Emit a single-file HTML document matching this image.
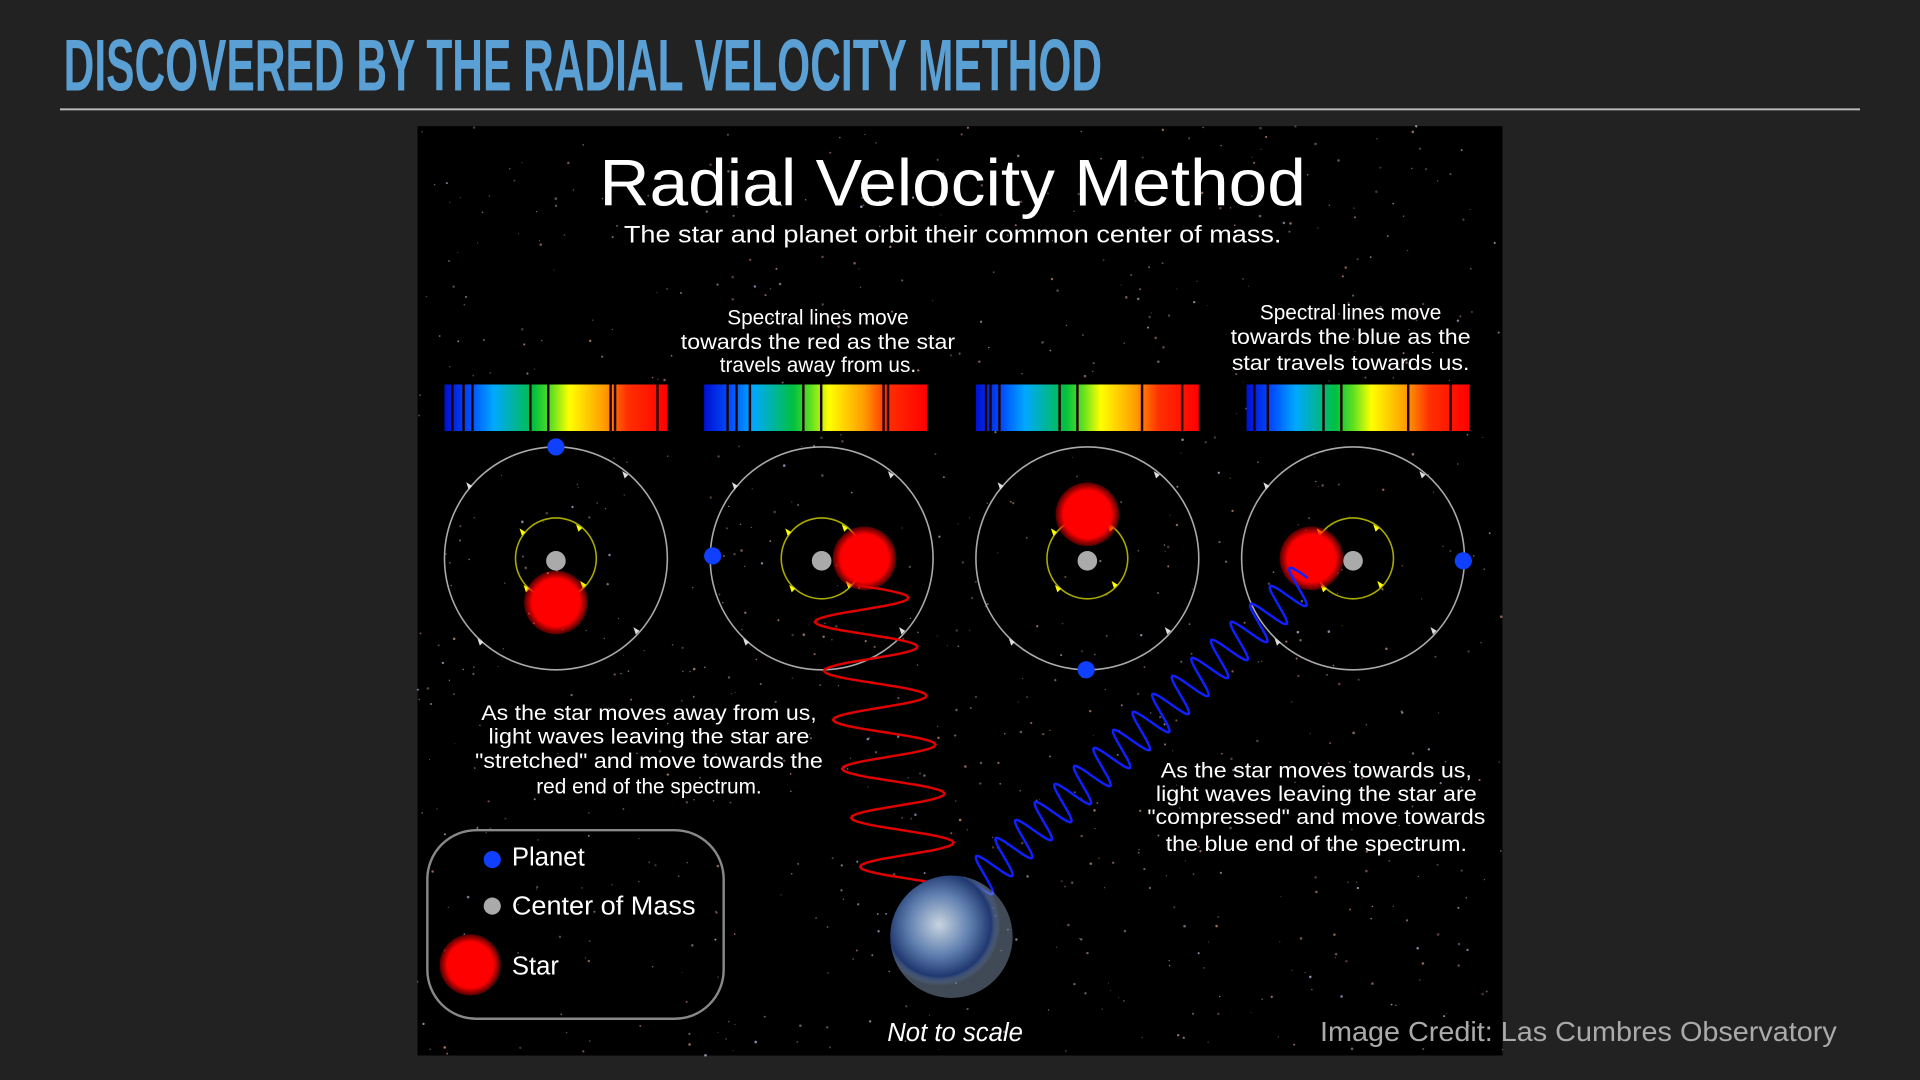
<!DOCTYPE html>
<html><head><meta charset="utf-8">
<style>
html,body{margin:0;padding:0;background:#222;width:1920px;height:1080px;overflow:hidden}
svg{display:block}
.t{font-family:"Liberation Sans",sans-serif;fill:#fff;text-anchor:middle}
</style></head>
<body>
<svg id="s" width="1920" height="1080" viewBox="0 0 1568 882" xmlns="http://www.w3.org/2000/svg">
<defs>
<linearGradient id="spec" x1="0" x2="1" y1="0" y2="0">
<stop offset="0" stop-color="#0010d0"/><stop offset="0.12" stop-color="#0050ff"/><stop offset="0.22" stop-color="#00a8ff"/>
<stop offset="0.4" stop-color="#00c040"/><stop offset="0.48" stop-color="#60e020"/><stop offset="0.56" stop-color="#ffff00"/>
<stop offset="0.72" stop-color="#ff9a00"/><stop offset="0.82" stop-color="#ff3000"/><stop offset="1" stop-color="#ff0000"/>
</linearGradient>
<radialGradient id="starg"><stop offset="0.75" stop-color="#ff0000"/><stop offset="1" stop-color="#ff0000" stop-opacity="0.3"/></radialGradient>
<radialGradient id="earth" cx="0.4" cy="0.4"><stop offset="0" stop-color="#c8d4e0"/><stop offset="0.5" stop-color="#6080b0"/><stop offset="0.85" stop-color="#203870"/><stop offset="1" stop-color="#a0b8d8" stop-opacity="0.4"/></radialGradient>
</defs>
<text x="52" y="74" font-family="Liberation Sans, sans-serif" font-weight="bold" font-size="60" fill="#5aa0d4" textLength="848" lengthAdjust="spacingAndGlyphs">DISCOVERED BY THE RADIAL VELOCITY METHOD</text>
<rect x="49" y="88.5" width="1470" height="1.6" fill="#bbb"/>
<g>
<rect x="341" y="103" width="886" height="759" fill="#000"/>
<g id="stars"></g>
<text class="t" x="778" y="168" font-size="54" textLength="577" lengthAdjust="spacingAndGlyphs">Radial Velocity Method</text>
<text class="t" x="778" y="198" font-size="20" textLength="537" lengthAdjust="spacingAndGlyphs">The star and planet orbit their common center of mass.</text>
<g>
<text class="t" x="668" y="265" font-size="17">Spectral lines move</text><text class="t" x="668" y="285" font-size="17" textLength="224" lengthAdjust="spacingAndGlyphs">towards the red as the star</text><text class="t" x="668" y="304" font-size="17">travels away from us.</text></g>
<g>
<text class="t" x="1103" y="261" font-size="17">Spectral lines move</text><text class="t" x="1103" y="281" font-size="17" textLength="196" lengthAdjust="spacingAndGlyphs">towards the blue as the</text><text class="t" x="1103" y="302" font-size="17" textLength="194" lengthAdjust="spacingAndGlyphs">star travels towards us.</text></g>
<g id="spectra"></g>
<g id="orbits"></g>
<path id="redwave" fill="none" stroke="#e00000" stroke-width="2"/>
<path id="bluewave" fill="none" stroke="#1020ff" stroke-width="2"/>
<circle cx="777" cy="765" r="50" fill="url(#earth)"/>
<g>
<text class="t" x="530" y="588" font-size="17" textLength="274" lengthAdjust="spacingAndGlyphs">As the star moves away from us,</text><text class="t" x="530" y="607" font-size="17" textLength="262" lengthAdjust="spacingAndGlyphs">light waves leaving the star are</text>
<text class="t" x="530" y="627" font-size="17" textLength="284" lengthAdjust="spacingAndGlyphs">"stretched" and move towards the</text><text class="t" x="530" y="648" font-size="17">red end of the spectrum.</text></g>
<g>
<text class="t" x="1075" y="635" font-size="17" textLength="254" lengthAdjust="spacingAndGlyphs">As the star moves towards us,</text><text class="t" x="1075" y="654" font-size="17" textLength="262" lengthAdjust="spacingAndGlyphs">light waves leaving the star are</text>
<text class="t" x="1075" y="673" font-size="17" textLength="276" lengthAdjust="spacingAndGlyphs">"compressed" and move towards</text><text class="t" x="1075" y="695" font-size="17" textLength="246" lengthAdjust="spacingAndGlyphs">the blue end of the spectrum.</text></g>
<g>
<rect x="349" y="678" width="242" height="154" rx="40" fill="none" stroke="#888" stroke-width="2"/>
<circle cx="402" cy="702" r="7" fill="#1040ff"/>
<text x="418" y="707" font-size="21" font-family="Liberation Sans, sans-serif" fill="#fff">Planet</text>
<circle cx="402" cy="740" r="7" fill="#aaa"/>
<text x="418" y="747" font-size="21" font-family="Liberation Sans, sans-serif" fill="#fff" textLength="150" lengthAdjust="spacingAndGlyphs">Center of Mass</text>
<circle cx="384" cy="788" r="25" fill="url(#starg)"/>
<text x="418" y="796" font-size="21" font-family="Liberation Sans, sans-serif" fill="#fff">Star</text>
</g>
<text class="t" x="780" y="850" font-size="21" font-style="italic">Not to scale</text>
</g>
<text x="1078" y="850" font-size="23" font-family="Liberation Sans, sans-serif" fill="#aaa" textLength="422" lengthAdjust="spacingAndGlyphs">Image Credit: Las Cumbres Observatory</text>
</svg>
<script>
var NS='http://www.w3.org/2000/svg';
function mk(tag,attrs,parent){var e=document.createElementNS(NS,tag);for(var k in attrs)e.setAttribute(k,attrs[k]);parent.appendChild(e);return e;}
var sg=document.getElementById('stars');var seed=7;function rnd(){seed=(seed*16807)%2147483647;return seed/2147483647;}
for(var i=0;i<900;i++){mk('circle',{cx:341+rnd()*886,cy:103+rnd()*759,r:0.4+rnd()*0.7,fill:rnd()<0.6?'#b08070':'#a0a0c0',opacity:0.4+rnd()*0.5},sg);}
var specX=[363,575,797,1018];
var specLines=[[0.03,0.08,0.12,0.38,0.46,0.74,0.76,0.95],[0.1,0.14,0.2,0.44,0.52,0.8,0.82],[0.04,0.06,0.1,0.37,0.45,0.74,0.92],[0.03,0.09,0.34,0.42,0.72,0.91]];
var spg=document.getElementById('spectra');
specX.forEach(function(x,j){
 var r=mk('rect',{x:x,y:314,width:182,height:38,fill:'url(#spec)'},spg);
 
 
 specLines[j].forEach(function(p){mk('rect',{x:x+p*182,y:314,width:2,height:38,fill:'#200'},spg);});
});
var og=document.getElementById('orbits');
var cx=[454,671,888,1105];
var starPos=[[454,492],[706,456],[888,420],[1071,456]];
var planetPos=[[454,365],[582,454],[887,547],[1195,458]];
cx.forEach(function(x,j){
 var c=mk('circle',{cx:x,cy:456,r:91,fill:'none',stroke:'#aaa','stroke-width':1.3},og);
 
 
 mk('circle',{cx:x,cy:456,r:33,fill:'none',stroke:'#aa0','stroke-width':1.3},og);
 [[-0.75,-0.65],[0.65,-0.75],[-0.65,0.75],[0.75,0.65]].forEach(function(d){
  mk('path',{d:'M'+(x+d[0]*91)+' '+(456+d[1]*91)+' l-5 -3 l2 6z',fill:'#ddd'},og);
  mk('path',{d:'M'+(x+d[0]*33)+' '+(456+d[1]*33)+' l-5 -3 l2 6z',fill:'#ff0'},og);
 });
 var m=mk('circle',{cx:x,cy:458,r:8,fill:'#aaa'},og);
 
 
 var s=mk('circle',{cx:starPos[j][0],cy:starPos[j][1],r:26,fill:'url(#starg)'},og);
 
 
 var p=mk('circle',{cx:planetPos[j][0],cy:planetPos[j][1],r:7,fill:'#1040ff'},og);
 
 
});
function wave(x0,y0,x1,y1,amp,cycles,horiz){
 var d='',n=cycles*24,dx=x1-x0,dy=y1-y0,L=Math.hypot(dx,dy),px=-dy/L,py=dx/L;
 if(horiz){px=1;py=0;}
 for(var i=0;i<=n;i++){var t=i/n,s=amp*Math.sin(t*cycles*2*Math.PI);d+=(i?'L':'M')+(x0+dx*t+px*s).toFixed(1)+' '+(y0+dy*t+py*s).toFixed(1);}
 return d;}
document.getElementById('redwave').setAttribute('d',wave(700,478,748,738,40,6.5,true));
document.getElementById('bluewave').setAttribute('d',wave(1068,472,796,722,16,17,false));
</script>
</body></html>
